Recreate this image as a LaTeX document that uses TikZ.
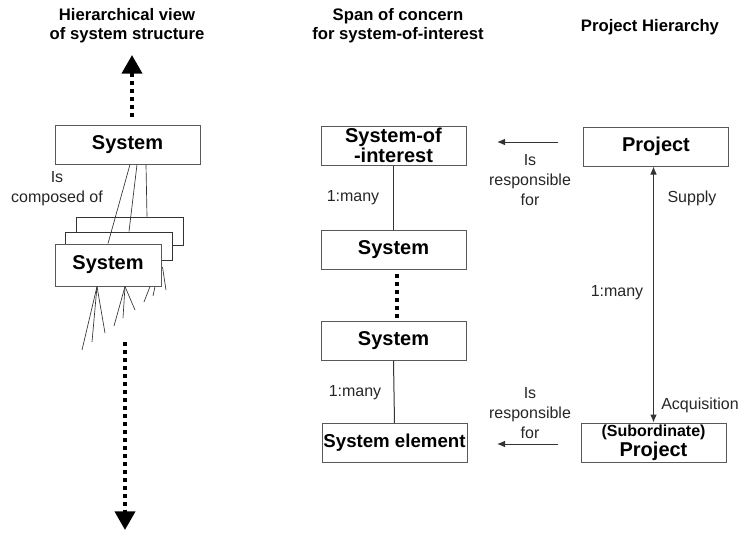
\documentclass[tikz,border=0pt]{standalone}
\usepackage{fontspec}
\setmainfont{Liberation Sans}
\usetikzlibrary{arrows.meta,calc}

\begin{document}
\begin{tikzpicture}[x=0.75pt, y=-0.75pt,
  sysbox/.style={draw=black!65, line width=0.75pt, fill=white, minimum width=108.75pt,
    minimum height=29.25pt, inner sep=0pt, align=center, font=\fontsize{15}{15}\selectfont\bfseries},
  emptybox/.style={draw=black!80, fill=white, line width=0.75pt, minimum width=80.25pt,
    minimum height=21pt, inner sep=0pt},
  note/.style={font=\fontsize{12}{15}\selectfont, align=center, text=black!85, inner sep=0pt},
  heading/.style={font=\fontsize{12.5}{14.5}\selectfont\bfseries, align=center, inner sep=0pt},
  dotline/.style={line width=3pt, dash pattern=on 3pt off 3pt},
  fan/.style={line width=0.5pt, black!80},
  thin/.style={line width=0.75pt, black!80}]
  \useasboundingbox (0,0) rectangle (740,533);

  % Draw the three column headings.
  \node[heading] (headL) at (127,26) {Hierarchical view\\of system structure};
  \node[heading] (headM) at (398,26) {Span of concern\\for system-of-interest};
  \node[heading] (headR) at (650,27) {Project Hierarchy};

  % Left column: a system made of a stack of systems.
  \node[sysbox] (sysA) at (127.5,144.5) {System};
  \node[emptybox] (back) at (129.5,231) {};
  \node[emptybox] (mid) at (118.5,246) {};
  \node[sysbox, minimum width=79.5pt, minimum height=31.5pt] (sysB) at (108,265) {System};
  \node[note] (composed) at (57,189) {Is\\composed of};
  \draw[fan] ($(sysA.south)+(2.5,0)$) -- (sysB.north);
  \draw[fan] ($(sysA.south)+(9.5,0)$) -- ($(mid.north)+(10.5,0)$);
  \draw[fan] ($(sysA.south)+(18.5,0)$) -- ($(back.north)+(17.5,0)$);
  % The fan of lines under the stack.
  \foreach \ex/\ey in {82/350, 92/342, 105/333}
    \draw[fan] ($(sysB.south)+(-11,0)$) -- (\ex,\ey);
  \foreach \ex/\ey in {114/326, 123/318, 135/310}
    \draw[fan] ($(sysB.south)+(17,0)$) -- (\ex,\ey);
  \draw[fan] ($(sysB.south)+(42,0)$) -- (144,302);
  \draw[fan] ($(sysB.south)+(47,0)$) -- (153,296);
  \draw[fan] ($(sysB.east)+(1,2)$) -- (166,290);
  % Dotted arrows up and down the hierarchy.
  \coordinate (upStart) at (132,117);
  \coordinate (upEnd) at (132,55);
  \coordinate (downStart) at (125,342);
  \coordinate (downEnd) at (125,530);
  \draw[dotline, -{Triangle[width=15pt,length=14pt]}] (upStart) -- (upEnd);
  \draw[dotline, -{Triangle[width=15pt,length=14pt]}] (downStart) -- (downEnd);

  % Middle column: span of concern.
  \node[sysbox] (soi) at (393.5,145.5) {System-of\\-interest};
  \node[sysbox] (sysC) at (393.5,249.5) {System};
  \node[sysbox] (sysD) at (393.5,340.5) {System};
  \node[sysbox, font=\fontsize{14}{15}\selectfont\bfseries] (elem) at (394.5,443) {System element};
  \draw[thin] (soi.south) -- (sysC.north);
  \draw[dotline] ($(sysC.south)+(3,4)$) -- ($(sysD.north)+(3,0)$);
  \draw[thin] (sysD.south) -- (elem.north);
  \node[note] (manyA) at (353,198) {1:many};
  \node[note] (manyB) at (355,393) {1:many};

  % Right column: project hierarchy.
  \node[sysbox] (proj) at (656,146.5) {Project};
  \node[sysbox] (sub) at (653.5,442.5) {{\fontsize{12}{15}\selectfont(Subordinate)}\\Project};
  \draw[thin, {Latex[length=6pt,width=5pt]}-{Latex[length=6pt,width=5pt]}]
    (proj.south -| sub.north) -- (sub.north);
  \node[note] (supply) at (692,198) {Supply};
  \node[note] (manyC) at (617,293) {1:many};
  \node[note] (acq) at (700,405) {Acquisition};

  % Responsibility arrows between the columns.
  \coordinate (respA) at (558,142);
  \coordinate (respB) at (558,444);
  \draw[thin, -{Latex[length=6pt,width=5pt]}] (respA) -- (497,142);
  \draw[thin, -{Latex[length=6pt,width=5pt]}] (respB) -- (497,444);
  \node[note] (isRespA) at (530,180) {Is\\responsible\\for};
  \node[note] (isRespB) at (530,413) {Is\\responsible\\for};
\end{tikzpicture}
\end{document}
